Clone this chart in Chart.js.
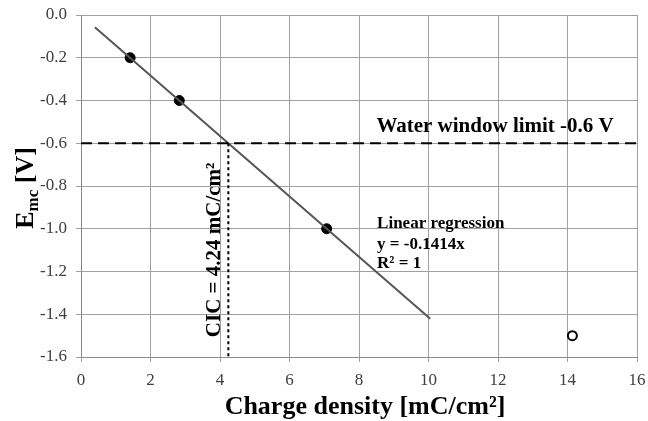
<!DOCTYPE html>
<html>
<head>
<meta charset="utf-8">
<script src="https://cdn.jsdelivr.net/npm/chart.js@4"></script>
<style>
  html, body { margin: 0; padding: 0; background: #fff; }
  #wrap { width: 648px; height: 421px; }
</style>
</head>
<body>
<div id="wrap"><canvas id="chart" width="648" height="421"></canvas></div>
<script>
// measured points (charge density, E_mc)
let measuredX = [1.414, 2.828, 7.07];
let measuredY = [-0.2, -0.4, -1.0];
// open marker
let openX = [14.14];
let openY = [-1.5];
// regression line ends, y = -0.1414x
let fitX = [0.4, 10.05];
let fitY = [-0.057, -1.421];
let waterLimit = -0.6;
let cicValue = 4.24;
let xTicks = [0, 2, 4, 6, 8, 10, 12, 14, 16];
let yTicks = [0.0, -0.2, -0.4, -0.6, -0.8, -1.0, -1.2, -1.4, -1.6];

const serif = "'Liberation Serif', 'Times New Roman', serif";

let toPoints = (xs, ys) => xs.map((x, i) => ({x: x, y: ys[i]}));

let textPlugin = {
    id: 'chartTexts',
    afterDraw: function(chart) {
        let ctx = chart.ctx;
        let xs = chart.scales.x;
        let ys = chart.scales.y;
        ctx.save();
        ctx.fillStyle = '#000';
        ctx.textBaseline = 'alphabetic';

        // water window label
        ctx.font = "bold 21px " + serif;
        ctx.textAlign = 'left';
        ctx.fillText("Water window limit -0.6 V", xs.getPixelForValue(8.5), ys.getPixelForValue(-0.548));

        // regression text
        ctx.font = "bold 17px " + serif;
        let lx = xs.getPixelForValue(8.52);
        ctx.fillText("Linear regression", lx, ys.getPixelForValue(-0.995));
        ctx.fillText("y = -0.1414x", lx, ys.getPixelForValue(-1.093));
        ctx.fillText("R\u00b2 = 1", lx, ys.getPixelForValue(-1.183));

        // CIC vertical text
        ctx.save();
        ctx.translate(xs.getPixelForValue(3.83), ys.getPixelForValue(-1.099));
        ctx.rotate(-Math.PI / 2);
        ctx.textAlign = 'center';
        ctx.textBaseline = 'middle';
        ctx.font = "bold 21px " + serif;
        ctx.fillText("CIC = 4.24 mC/cm\u00b2", 0, 0);
        ctx.restore();

        // x axis title
        ctx.textAlign = 'center';
        ctx.textBaseline = 'middle';
        ctx.font = "bold 26px " + serif;
        ctx.fillText("Charge density [mC/cm\u00b2]", 365, 407);

        // y axis title with subscript
        ctx.save();
        ctx.translate(24, 188);
        ctx.rotate(-Math.PI / 2);
        ctx.textBaseline = 'alphabetic';
        ctx.textAlign = 'left';
        let big = "bold 26px " + serif;
        let small = "bold 17px " + serif;
        ctx.font = big;
        let wE = ctx.measureText("E").width;
        let wV = ctx.measureText(" [V]").width;
        ctx.font = small;
        let wS = ctx.measureText("mc").width;
        let start = -(wE + wS + wV) / 2;
        ctx.font = big;
        ctx.fillText("E", start, 9);
        ctx.font = small;
        ctx.fillText("mc", start + wE, 14);
        ctx.font = big;
        ctx.fillText(" [V]", start + wE + wS, 9);
        ctx.restore();

        ctx.restore();
    }
};

let main = function() {
    const ctx = document.getElementById('chart');
    new Chart(ctx, {
        type: 'scatter',
        data: {
            datasets: [
                {
                    label: 'Water window',
                    data: toPoints([0, 16], [waterLimit, waterLimit]),
                    showLine: true,
                    borderColor: '#000',
                    borderWidth: 2,
                    borderDash: [11, 6],
                    pointRadius: 0
                },
                {
                    label: 'CIC',
                    data: toPoints([cicValue, cicValue], [waterLimit, -1.6]),
                    showLine: true,
                    borderColor: '#000',
                    borderWidth: 2,
                    borderDash: [3, 3],
                    pointRadius: 0
                },
                {
                    label: 'Fit',
                    data: toPoints(fitX, fitY),
                    showLine: true,
                    borderColor: '#555',
                    borderWidth: 2,
                    pointRadius: 0
                },
                {
                    label: 'Measured',
                    data: toPoints(measuredX, measuredY),
                    pointRadius: 5,
                    pointBackgroundColor: '#000',
                    pointBorderColor: '#000',
                    borderWidth: 1
                },
                {
                    label: 'Open',
                    data: toPoints(openX, openY),
                    pointRadius: 4.5,
                    pointBackgroundColor: '#fff',
                    pointBorderColor: '#000',
                    pointBorderWidth: 2
                }
            ]
        },
        options: {
            responsive: false,
            animation: false,
            layout: { padding: { top: 15, right: 11, left: 0, bottom: 0 } },
            plugins: {
                legend: { display: false },
                tooltip: { enabled: false }
            },
            scales: {
                x: {
                    type: 'linear',
                    min: 0, max: 16,
                    afterFit: s => {
                        s.height = 64;
                        s.paddingLeft = 0;
                        s.paddingRight = 0;
                    },
                    afterBuildTicks: s => { s.ticks = xTicks.map(v => ({value: v})); },
                    grid: { color: '#a0a0a0', lineWidth: 1, tickLength: 5 },
                    border: { color: '#8a8a8a' },
                    ticks: {
                        color: '#404040',
                        font: { family: serif, size: 17 },
                        padding: 8
                    }
                },
                y: {
                    type: 'linear',
                    min: -1.6, max: 0,
                    afterFit: s => {
                        s.width = 81;
                        s.paddingTop = 0;
                        s.paddingBottom = 0;
                    },
                    afterBuildTicks: s => { s.ticks = yTicks.map(v => ({value: v})); },
                    grid: { color: '#a0a0a0', lineWidth: 1, tickLength: 5 },
                    border: { color: '#8a8a8a' },
                    ticks: {
                        color: '#404040',
                        font: { family: serif, size: 17 },
                        padding: 9,
                        callback: v => v.toFixed(1)
                    }
                }
            }
        },
        plugins: [textPlugin]
    });
};

window.onload = main;
</script>
</body>
</html>
